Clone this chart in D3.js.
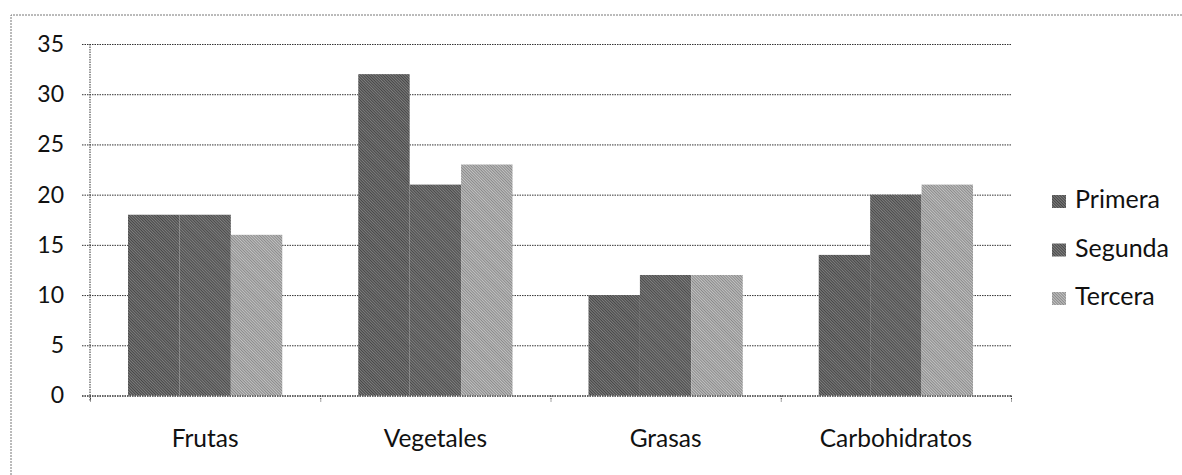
<!DOCTYPE html>
<html>
<head>
<meta charset="utf-8">
<script src="https://cdn.jsdelivr.net/npm/d3@7"></script>
<style>
  body { margin: 0; background: #fff; }
  svg { display: block; font-family: Lato, "Open Sans", sans-serif; }
</style>
</head>
<body>
<div id="chart"></div>
<script>
// ------- Data -------
const categories = ["Frutas", "Vegetales", "Grasas", "Carbohidratos"];
const seriesNames = ["Primera", "Segunda", "Tercera"];
const primera = [18, 32, 10, 14];
const segunda = [18, 21, 12, 20];
const tercera = [16, 23, 12, 21];
const yTicks = [0, 5, 10, 15, 20, 25, 30, 35];

const seriesValues = [primera, segunda, tercera];

const width = 1182, height = 475;
const plot = {left: 90, right: 1011, top: 44, bottom: 395.5};

const svg = d3.select("#chart").append("svg")
    .attr("width", width)
    .attr("height", height);

// halftone-ish patterns for the bars (scan texture)
const defs = svg.append("defs");
const shades = [
  {id: "p0", light: "#7e7e7e", dark: "#464646"},
  {id: "p1", light: "#808080", dark: "#4a4a4a"},
  {id: "p2", light: "#c2c2c2", dark: "#8a8a8a"}
];
shades.forEach(s => {
  let p = defs.append("pattern")
      .attr("id", s.id)
      .attr("patternUnits", "userSpaceOnUse")
      .attr("width", 2)
      .attr("height", 2)
      .attr("patternTransform", "rotate(-45)");
  p.append("rect").attr("width", 2).attr("height", 2).attr("fill", s.light);
  p.append("rect").attr("width", 1).attr("height", 2).attr("fill", s.dark);
});

// outer dashed frame
svg.append("path")
   .attr("d", `M11,475 L11,15 L1182,15`)
   .attr("fill", "none")
   .attr("stroke", "#777")
   .attr("stroke-width", 1)
   .attr("stroke-dasharray", "2,1");

const xScale = d3.scaleBand()
    .domain(categories)
    .range([plot.left, plot.right])
    .paddingInner(0.33)
    .paddingOuter(0.165);

const xBand = d3.scaleBand()
    .domain(d3.range(3))
    .range([0, xScale.bandwidth()]);

const yScale = d3.scaleLinear()
    .domain([0, 35])
    .range([plot.bottom, plot.top]);

// gridlines + y labels
const yAxis = svg.append("g")
    .attr("transform", `translate(${plot.left},0)`)
    .call(d3.axisLeft(yScale)
      .tickValues(yTicks)
      .tickSize(-(plot.right - plot.left))
      .tickPadding(26)
      .tickSizeOuter(0));
yAxis.select(".domain").remove();
yAxis.selectAll(".tick line")
     .attr("x1", -8)
     .attr("stroke", "#333")
     .attr("stroke-dasharray", "1.5,1");
yAxis.selectAll(".tick text")
     .attr("fill", "#111")
     .attr("font-size", 23)
     .attr("font-family", "Lato, sans-serif");

// y axis line
svg.append("line")
   .attr("x1", plot.left).attr("x2", plot.left)
   .attr("y1", plot.top).attr("y2", plot.bottom + 6)
   .attr("stroke", "#333")
   .attr("stroke-dasharray", "1.5,1");

// bars
const groups = svg.selectAll(".grp")
    .data(categories)
    .enter().append("g")
    .attr("class", "grp")
    .attr("transform", d => `translate(${xScale(d)},0)`);

groups.selectAll("rect")
    .data((d, i) => seriesValues.map((vals, s) => ({s: s, v: vals[i]})))
    .enter().append("rect")
    .attr("x", d => xBand(d.s))
    .attr("width", xBand.bandwidth())
    .attr("y", d => yScale(d.v))
    .attr("height", d => plot.bottom - yScale(d.v))
    .attr("fill", d => `url(#p${d.s})`);

// x axis
const xEdge = d3.scaleLinear().domain([0, categories.length]).range([plot.left, plot.right]);
const xAxis = svg.append("g")
    .attr("transform", `translate(0,${plot.bottom})`)
    .call(d3.axisBottom(xEdge).tickValues(d3.range(categories.length + 1)).tickSize(6).tickFormat(""));
xAxis.select(".domain")
     .attr("stroke", "#333")
     .attr("stroke-dasharray", "1.5,1")
     .attr("d", `M${plot.left - 8},0.5H${plot.right}`);
xAxis.selectAll(".tick line").attr("stroke", "#444").attr("stroke-dasharray", "1.5,1");

svg.selectAll(".cat")
   .data(categories)
   .enter().append("text")
   .attr("class", "cat")
   .attr("x", d => xScale(d) + xScale.bandwidth() / 2)
   .attr("y", 447)
   .attr("text-anchor", "middle")
   .attr("font-size", 24.5)
   .attr("fill", "#111")
   .text(d => d);

// legend
const legend = svg.selectAll(".leg")
    .data(seriesNames)
    .enter().append("g")
    .attr("class", "leg")
    .attr("transform", (d, i) => `translate(1052,${208 + i * 48.5})`);
legend.append("rect")
    .attr("x", 0).attr("y", -13)
    .attr("width", 14).attr("height", 13)
    .attr("fill", (d, i) => `url(#p${i})`);
legend.append("text")
    .attr("x", 23)
    .attr("y", 0)
    .attr("font-size", 25)
    .attr("fill", "#111")
    .text(d => d);
</script>
</body>
</html>
